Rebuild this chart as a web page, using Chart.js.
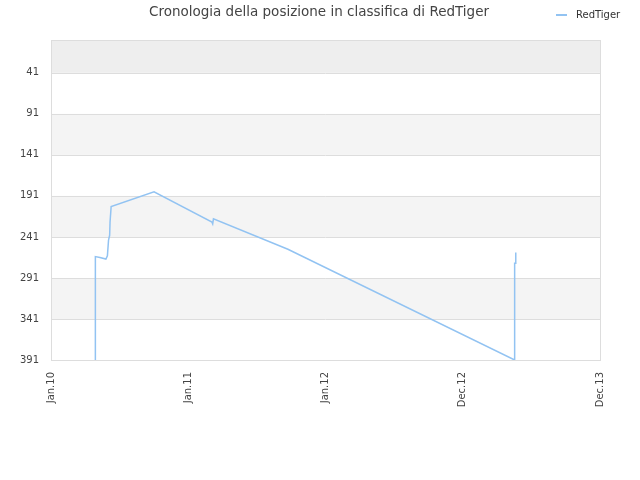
<!DOCTYPE html>
<html>
<head>
<meta charset="utf-8">
<script src="https://cdn.jsdelivr.net/npm/chart.js@4.4.1/dist/chart.umd.min.js"></script>
<style>
    html, body { margin: 0; padding: 0; background: #ffffff; }
    #wrap { width: 640px; height: 480px; }
</style>
</head>
<body>
<div id="wrap"><canvas id="rank-chart"></canvas></div>
<script>
(function () {
    "use strict";

    // Data
    const chartTitle = "Cronologia della posizione in classifica di RedTiger";
    const seriesName = "RedTiger";
    const dates = [
        "2010-04-29", "2010-04-29", "2010-05-11", "2010-05-27", "2010-05-31",
        "2010-06-03", "2010-06-06", "2010-06-07", "2010-06-10", "2010-10-02",
        "2011-03-05", "2011-03-07", "2011-03-09", "2011-09-23", "2013-05-18",
        "2013-05-18", "2013-05-21", "2013-05-21"
    ];
    const ranks = [
        391, 265, 266, 268, 264,
        245, 239, 223, 204, 186,
        223, 225, 219, 256, 391,
        273, 273, 260
    ];
    const xTickDays = [0, 365, 730, 1095, 1460];
    const xTickLabels = ["Jan.10", "Jan.11", "Jan.12", "Dec.12", "Dec.13"];
    const yTicks = [41, 91, 141, 191, 241, 291, 341, 391];
    const yMin = 1;
    const yMax = 391;

    const origin = Date.UTC(2010, 0, 1);
    function dayOf(s) {
        let p = s.split("-");
        return (Date.UTC(+p[0], +p[1] - 1, +p[2]) - origin) / 86400000;
    }
    let points = dates.map(function (d, i) {
        return { x: dayOf(d), y: ranks[i] };
    });

    const lineColor = "#92c3f2";

    // bands behind the plot and frame round it
    let bandsPlugin = {
        id: "bands",
        beforeDatasetsDraw: function (chart) {
            let ctx = chart.ctx;
            let a = chart.chartArea;
            let y = chart.scales.y;
            ctx.save();
            ctx.fillStyle = "#eeeeee";
            let top = y.getPixelForValue(yMin);
            let first = y.getPixelForValue(yTicks[0]);
            ctx.fillRect(a.left, top, a.right - a.left, first - top);
            ctx.fillStyle = "#f4f4f4";
            for (let i = 1; i < yTicks.length - 1; i += 2) {
                let p1 = y.getPixelForValue(yTicks[i]);
                let p2 = y.getPixelForValue(yTicks[i + 1]);
                ctx.fillRect(a.left, p1, a.right - a.left, p2 - p1);
            }
            ctx.strokeStyle = "#dddddd";
            ctx.lineWidth = 1;
            for (let i = 0; i < yTicks.length; i++) {
                let p = Math.round(y.getPixelForValue(yTicks[i])) + 0.5;
                ctx.beginPath();
                ctx.moveTo(a.left, p);
                ctx.lineTo(a.right, p);
                ctx.stroke();
            }
            ctx.strokeRect(Math.round(a.left) + 0.5, Math.round(a.top) + 0.5,
                Math.round(a.right - a.left), Math.round(a.bottom - a.top));
            ctx.restore();
        }
    };

    // title centred on the page, legend at top right
    let headerPlugin = {
        id: "header",
        afterDraw: function (chart) {
            let ctx = chart.ctx;
            ctx.save();
            ctx.fillStyle = "#444444";
            ctx.font = "13.5px 'DejaVu Sans'";
            ctx.textBaseline = "middle";
            ctx.textAlign = "center";
            ctx.fillText(chartTitle, chart.width / 2 - 1, 12);

            ctx.strokeStyle = lineColor;
            ctx.lineWidth = 2;
            ctx.beginPath();
            ctx.moveTo(556, 15);
            ctx.lineTo(567, 15);
            ctx.stroke();
            ctx.fillStyle = "#333333";
            ctx.font = "10px 'DejaVu Sans'";
            ctx.textAlign = "left";
            ctx.fillText(seriesName, 576, 15);
            ctx.restore();
        }
    };

    let ctx = document.getElementById("rank-chart").getContext("2d");
    let rankChart = new Chart(ctx, {
        type: "line",
        data: {
            datasets: [
                {
                    label: seriesName,
                    data: points,
                    borderColor: lineColor,
                    backgroundColor: lineColor,
                    borderWidth: 1.5,
                    pointRadius: 0,
                    tension: 0,
                    fill: false,
                },
            ],
        },
        options: {
            responsive: true,
            maintainAspectRatio: false,
            animation: false,
            layout: {
                padding: { left: 0, right: 40, top: 40, bottom: 0 },
            },
            plugins: {
                legend: { display: false },
                tooltip: { enabled: false },
                title: { display: false },
            },
            scales: {
                x: {
                    type: "linear",
                    min: xTickDays[0],
                    max: xTickDays[xTickDays.length - 1],
                    afterBuildTicks: function (scale) {
                        scale.ticks = xTickDays.map(function (v) { return { value: v }; });
                    },
                    afterFit: function (scale) {
                        scale.height = 120;
                    },
                    grid: { display: false, drawTicks: false },
                    border: { display: false },
                    ticks: {
                        minRotation: 90,
                        maxRotation: 90,
                        padding: 12,
                        color: "#444444",
                        font: { family: "'DejaVu Sans'", size: 10 },
                        callback: function (value) {
                            let i = xTickDays.indexOf(value);
                            return i >= 0 ? xTickLabels[i] : "";
                        },
                    },
                },
                y: {
                    reverse: true,
                    min: yMin,
                    max: yMax,
                    afterBuildTicks: function (scale) {
                        scale.ticks = yTicks.map(function (v) { return { value: v }; });
                    },
                    afterFit: function (scale) {
                        scale.width = 51;
                    },
                    grid: { display: false, drawTicks: false },
                    border: { display: false },
                    ticks: {
                        padding: 12,
                        color: "#444444",
                        font: { family: "'DejaVu Sans'", size: 10 },
                    },
                },
            },
        },
        plugins: [bandsPlugin, headerPlugin],
    });
})();
</script>
</body>
</html>
